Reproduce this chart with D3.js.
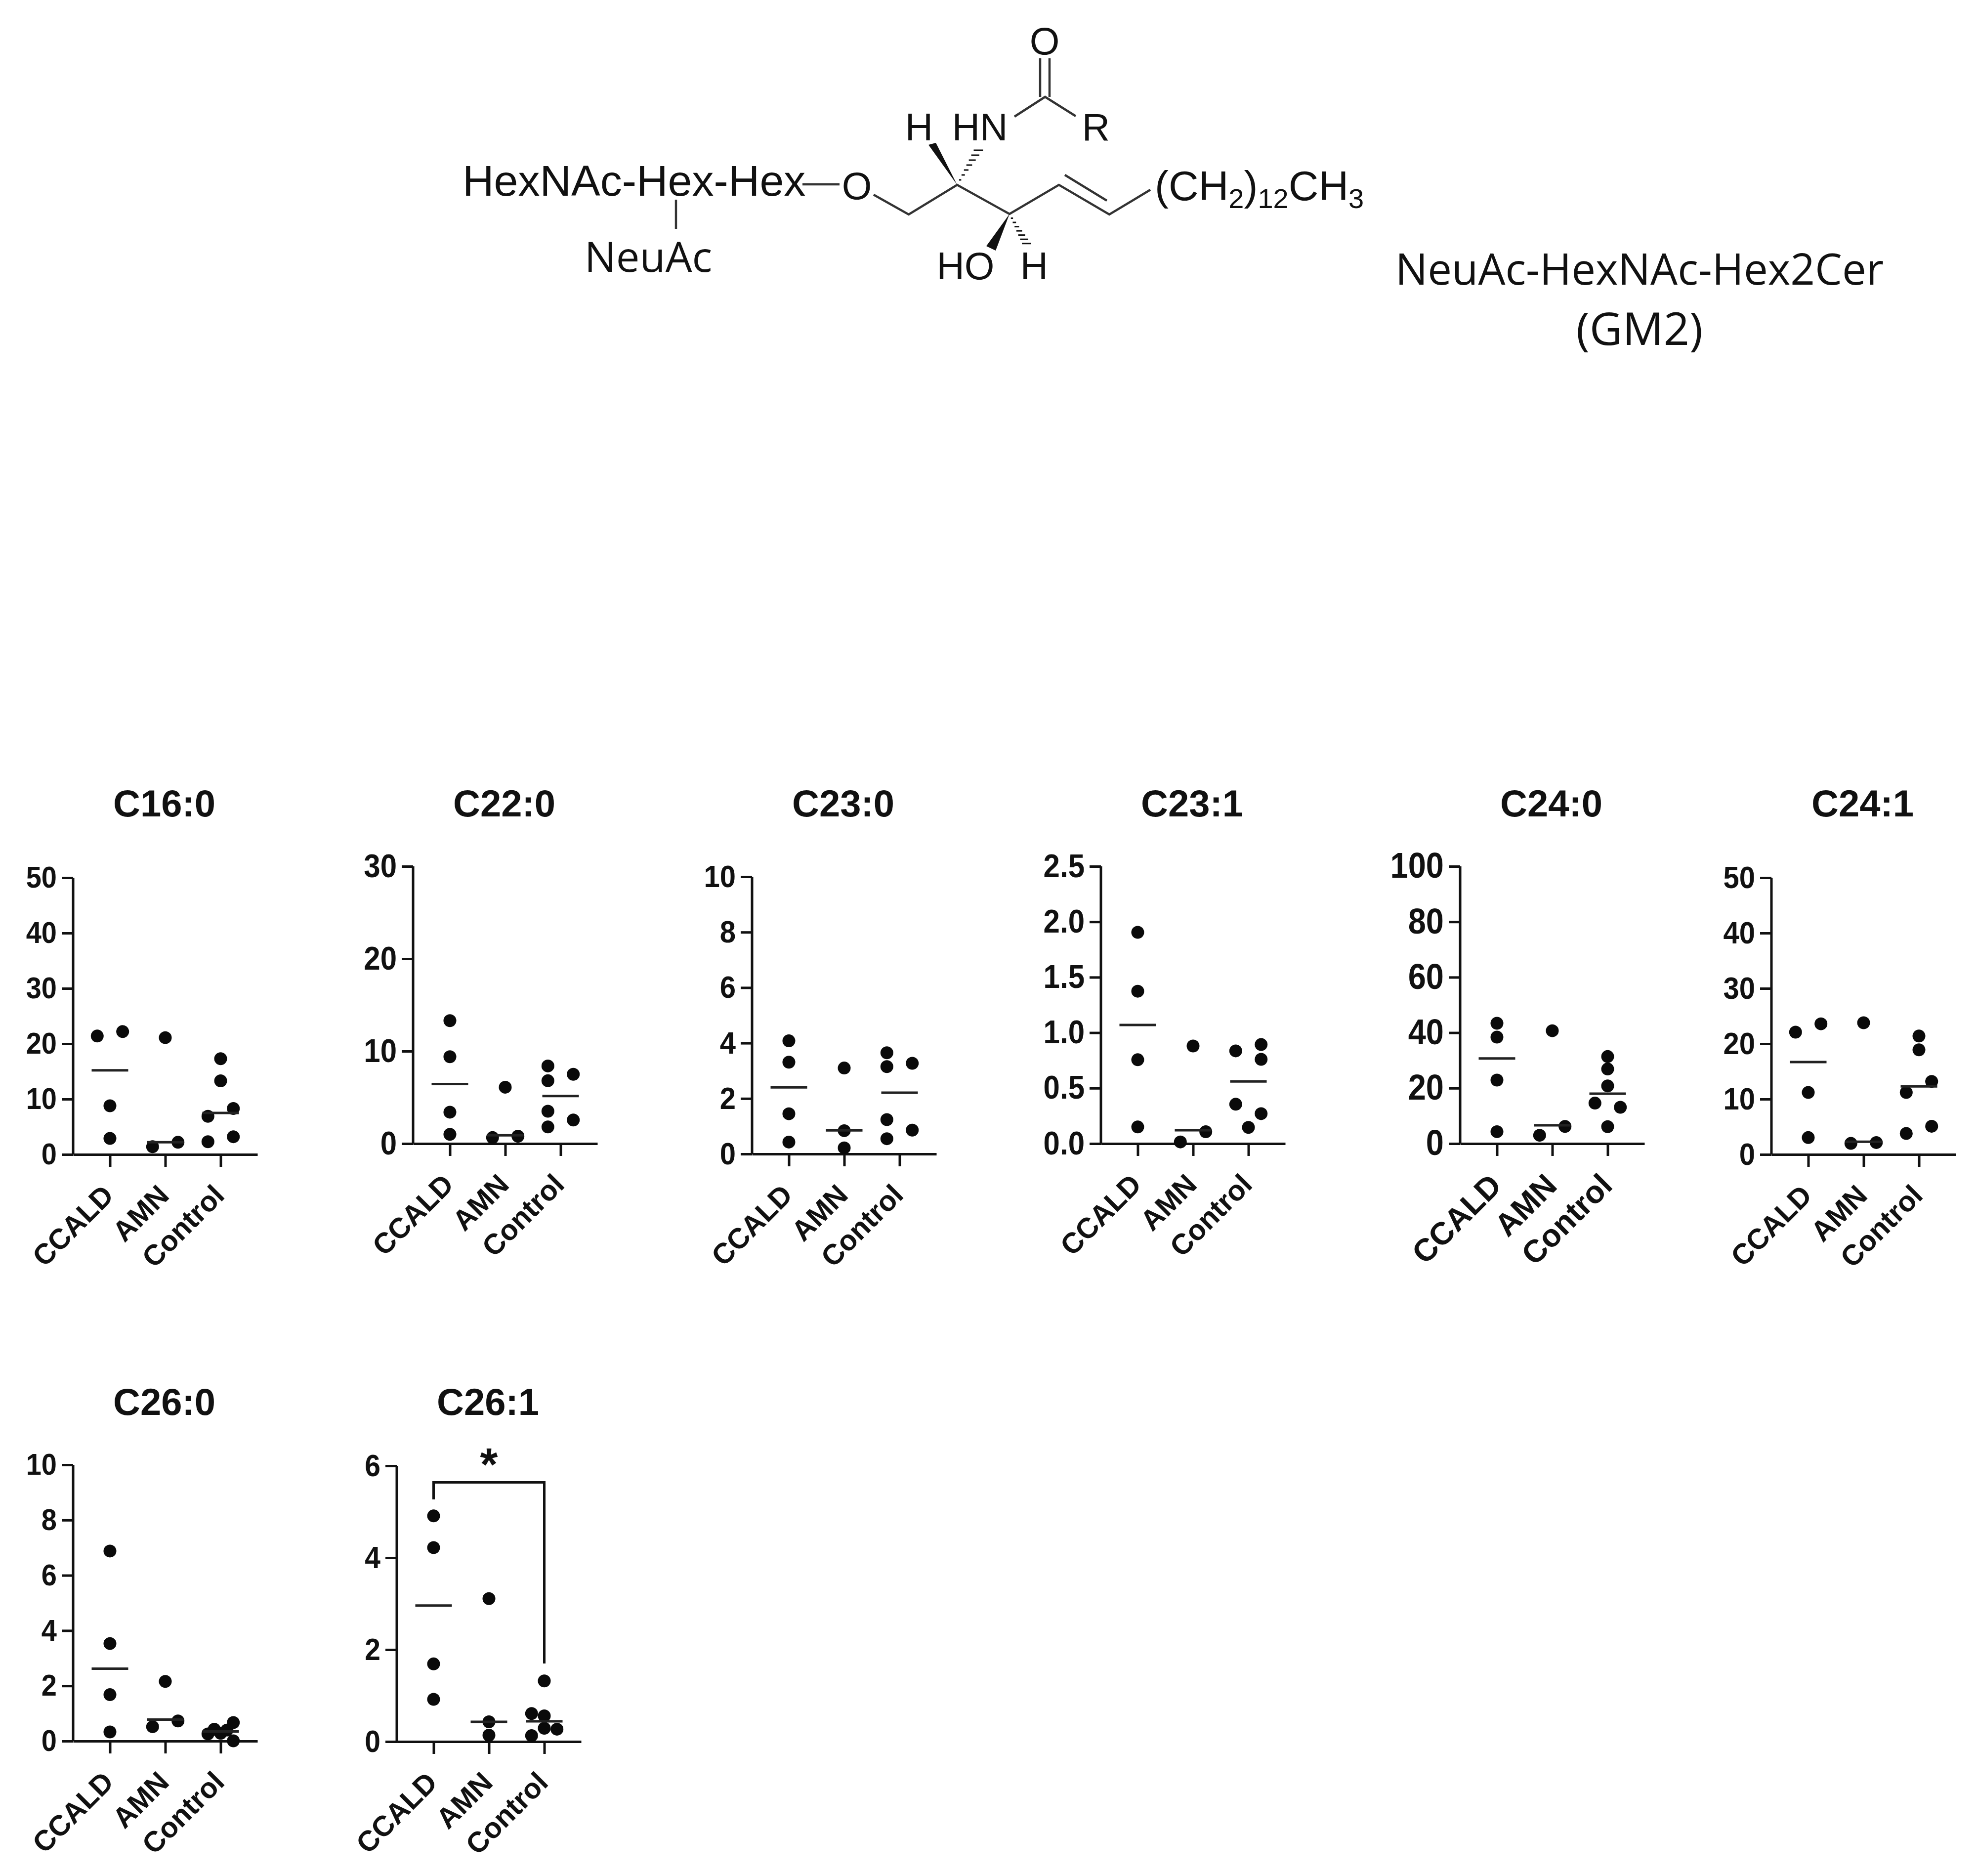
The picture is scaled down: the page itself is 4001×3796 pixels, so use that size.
<!DOCTYPE html>
<html>
<head>
<meta charset="utf-8">
<script src="https://cdn.jsdelivr.net/npm/d3@7"></script>
<style>
  html, body { margin: 0; padding: 0; background: #fff; }
  svg { display: block; }
  text { fill: #111; }
</style>
</head>
<body>
<div id="chart"></div>
<script>
var groups = ["CCALD", "AMN", "Control"];

// values, one list per group
// the *Slot lists say which prism column a dot sits in (-1 left, 0 centre, 1 right)
var c160 = [[21.4, 22.2, 8.8, 2.9], [21.1, 1.4, 2.2], [17.3, 13.3, 8.3, 6.9, 3.2, 2.3]];
var c160Slot = [[-1, 1, 0, 0], [0, -1, 1], [0, 0, 1, -1, 1, -1]];
var c160Median = [15.2, 2.2, 7.5];

var c220 = [[13.3, 9.4, 3.4, 1.0], [6.1, 0.65, 0.8], [8.4, 6.8, 7.5, 3.5, 2.55, 1.8]];
var c220Slot = [[0, 0, 0, 0], [0, -1, 1], [-1, -1, 1, -1, 1, -1]];
var c220Median = [6.45, 0.9, 5.15];

var c230 = [[4.08, 3.31, 1.45, 0.43], [3.1, 0.84, 0.22], [3.65, 3.15, 3.27, 1.24, 0.86, 0.55]];
var c230Slot = [[0, 0, 0, 0], [0, 0, 0], [-1, -1, 1, -1, 1, -1]];
var c230Median = [2.4, 0.85, 2.21];

var c231 = [[1.905, 1.374, 0.756, 0.15], [0.88, 0.107, 0.015], [0.893, 0.836, 0.76, 0.355, 0.27, 0.146]];
var c231Slot = [[0, 0, 0, 0], [0, 1, -1], [1, -1, 1, -1, 1, 0]];
var c231Median = [1.07, 0.12, 0.56];

var c240 = [[43.4, 38.4, 22.9, 4.3], [40.7, 6.2, 3.0], [31.4, 26.9, 20.8, 14.6, 13.1, 6.1]];
var c240Slot = [[0, 0, 0, 0], [0, 1, -1], [0, 0, 0, -1, 1, 0]];
var c240Median = [30.7, 6.6, 18];

var c241 = [[22.1, 23.6, 11.2, 3.05], [23.8, 2.0, 2.15], [21.4, 18.9, 13.2, 11.2, 5.1, 3.8]];
var c241Slot = [[-1, 1, 0, 0], [0, -1, 1], [0, 0, 1, -1, 1, -1]];
var c241Median = [16.7, 2.3, 12.3];

var c260 = [[6.88, 3.53, 1.68, 0.33], [2.16, 0.73, 0.52], [0.26, 0.43, 0.28, 0.4, 0.67, 0.01]];
var c260Slot = [[0, 0, 0, 0], [0, 1, -1], [-1, -0.5, 0, 0.5, 1, 1]];
var c260Median = [2.62, 0.78, 0.35];

var c261 = [[4.91, 4.22, 1.69, 0.92], [3.11, 0.43, 0.14], [1.32, 0.61, 0.56, 0.29, 0.27, 0.13]];
var c261Slot = [[0, 0, 0, 0], [0, 0, 0], [0, -1, 0, 0, 1, -1]];
var c261Median = [2.96, 0.43, 0.44];

// title, values, slots, medians, y max, y ticks
var panels = [
  ["C16:0", c160, c160Slot, c160Median, 50, [0, 10, 20, 30, 40, 50]],
  ["C22:0", c220, c220Slot, c220Median, 30, [0, 10, 20, 30]],
  ["C23:0", c230, c230Slot, c230Median, 10, [0, 2, 4, 6, 8, 10]],
  ["C23:1", c231, c231Slot, c231Median, 2.5, [0, 0.5, 1, 1.5, 2, 2.5]],
  ["C24:0", c240, c240Slot, c240Median, 100, [0, 20, 40, 60, 80, 100]],
  ["C24:1", c241, c241Slot, c241Median, 50, [0, 10, 20, 30, 40, 50]],
  ["C26:0", c260, c260Slot, c260Median, 10, [0, 2, 4, 6, 8, 10]],
  ["C26:1", c261, c261Slot, c261Median, 6, [0, 2, 4, 6]]
];

// where each panel's axes sit: left, top, bottom, title baseline, tick font, label font
var layout = [
  [148, 1776, 2336, 1652, 56, 58],
  [836, 1753, 2314, 1652, 60, 58],
  [1522, 1774, 2335, 1652, 58, 58],
  [2228, 1753, 2314, 1652, 60, 58],
  [2955, 1753, 2314, 1652, 65, 64],
  [3585, 1776, 2336, 1652, 58, 58],
  [148, 2964, 3523, 2863, 56, 58],
  [803, 2966, 3524, 2863, 57, 58]
];

var plotWidth = 373, dodge = 25.7, medianHalf = 37, dotR = 13, strokeW = 5;
var axisFont = "'Liberation Sans', Arial, sans-serif";
var plainFont = "'Open Sans', sans-serif";

var svg = d3.select("#chart").append("svg")
  .attr("width", 4001)
  .attr("height", 3796)
  .attr("viewBox", "0 0 4001 3796");

svg.append("rect").attr("width", 4001).attr("height", 3796).attr("fill", "#fff");

function makePanel(p, l) {
  var g = svg.append("g").attr("transform", "translate(" + l[0] + ",0)");

  var x = d3.scalePoint().domain(groups).range([0, plotWidth]).padding(0.665);
  var y = d3.scaleLinear().domain([0, p[4]]).range([l[2], l[1]]);
  var xOff = d3.scaleLinear().domain([-1, 1]).range([-dodge, dodge]);

  var yAxis = g.append("g")
    .call(d3.axisLeft(y).tickValues(p[5]).tickSize(23).tickSizeOuter(0).tickPadding(10)
      .tickFormat(p[4] == 2.5 ? d3.format(".1f") : d3.format("d")));
  var xAxis = g.append("g")
    .attr("transform", "translate(0," + l[2] + ")")
    .call(d3.axisBottom(x).tickSize(25).tickSizeOuter(0).tickPadding(6));

  [yAxis, xAxis].forEach(function (a) {
    a.selectAll("path, line").attr("stroke", "#111").attr("stroke-width", strokeW);
    a.selectAll("text")
      .attr("font-family", axisFont)
      .attr("font-weight", "bold")
      .attr("font-size", l[4])
      .attr("fill", "#111");
  });
  yAxis.select("path").attr("d", "M0," + y.range()[0] + "V" + y.range()[1]);
  // the numbers are a bit taller than they are wide in the picture
  yAxis.selectAll("text").attr("transform", "scale(1,1.1)");

  xAxis.selectAll("text")
    .attr("font-size", l[5])
    .attr("text-anchor", "end")
    .attr("dy", "0.5em")
    .attr("transform", "translate(-32,44) rotate(-45)");

  p[1].forEach(function (vals, i) {
    var grp = groups[i];
    g.selectAll(null)
      .data(vals)
      .enter()
      .append("circle")
      .attr("cx", function (d, j) { return x(grp) + xOff(p[2][i][j]); })
      .attr("cy", function (d) { return y(d); })
      .attr("r", dotR)
      .attr("fill", "#0a0a0a");

    g.append("line")
      .attr("x1", x(grp) - medianHalf)
      .attr("x2", x(grp) + medianHalf)
      .attr("y1", y(p[3][i]))
      .attr("y2", y(p[3][i]))
      .attr("stroke", "#222")
      .attr("stroke-width", strokeW);
  });

  g.append("text")
    .attr("x", x("AMN") - 2)
    .attr("y", l[3])
    .attr("text-anchor", "middle")
    .attr("font-family", axisFont)
    .attr("font-weight", "bold")
    .attr("font-size", 76)
    .text(p[0]);

  return { g: g, x: x, y: y };
}

var made = panels.map(function (p, i) { return makePanel(p, layout[i]); });

// significance bracket on C26:1
var last = made[7];
var bracket = d3.line();
last.g.append("path")
  .attr("d", bracket([
    [last.x("CCALD"), last.y(5.27)],
    [last.x("CCALD"), last.y(5.64)],
    [last.x("Control"), last.y(5.64)],
    [last.x("Control"), last.y(1.7)]
  ]))
  .attr("fill", "none")
  .attr("stroke", "#111")
  .attr("stroke-width", strokeW);
last.g.append("text")
  .attr("x", last.x("AMN"))
  .attr("y", last.y(5.64) - 4)
  .attr("text-anchor", "middle")
  .attr("font-family", axisFont)
  .attr("font-weight", "bold")
  .attr("font-size", 92)
  .text("*");

// glycan structure up top
var mol = svg.append("g").attr("transform", "translate(-7,-1)");
var bonds = [
  [[1375, 405], [1375, 464]],
  [[1631, 374], [1706, 374]],
  [[1775, 395], [1846, 435], [1944, 375], [2050, 434], [2150, 375], [2252, 435], [2335, 385]],
  [[2162, 355], [2247, 407]],
  [[2060, 237], [2122, 197], [2184, 236]],
  [[2112, 119], [2112, 197]],
  [[2131, 119], [2131, 197]]
];
bonds.forEach(function (b) {
  mol.append("path")
    .attr("d", d3.line()(b))
    .attr("fill", "none")
    .attr("stroke", "#333")
    .attr("stroke-width", 4.5);
});
[
  [[1944, 375], [1886, 294], [1901, 290]],
  [[2050, 434], [2003, 499], [2022, 508]]
].forEach(function (w) {
  mol.append("polygon").attr("points", w.join(" ")).attr("fill", "#111");
});
// hashed wedges
[
  [[1944, 375], [1990, 300]],
  [[2050, 434], [2087, 498]]
].forEach(function (h) {
  d3.range(1, 8).forEach(function (k) {
    var t = k / 7.5, half = 1 + 9 * t;
    var cx = h[0][0] + (h[1][0] - h[0][0]) * t;
    var cy = h[0][1] + (h[1][1] - h[0][1]) * t;
    mol.append("line")
      .attr("x1", cx - half).attr("x2", cx + half)
      .attr("y1", cy).attr("y2", cy)
      .attr("stroke", "#111").attr("stroke-width", 3);
  });
});

function molText(s, x, y, size, anchor, family) {
  return mol.append("text")
    .attr("x", x).attr("y", y)
    .attr("text-anchor", anchor || "middle")
    .attr("font-family", family || axisFont)
    .attr("font-size", size)
    .text(s);
}
molText("HexNAc-Hex-Hex", 943, 397, 88, "start");
molText("NeuAc", 1319, 551, 85, "middle", plainFont);
molText("O", 1741, 404, 78);
molText("O", 2121, 111, 78);
molText("H", 1867, 285, 78);
molText("HN", 1990, 285, 78);
molText("R", 2225, 285, 78);
molText("HO", 1961, 566, 78);
molText("H", 2100, 566, 78);

var chain = mol.append("text")
  .attr("x", 2344).attr("y", 406)
  .attr("font-family", axisFont)
  .attr("font-size", 84);
[["(CH", 0], ["2", 16], [")", -16], ["12", 16], ["CH", -16], ["3", 16]].forEach(function (t) {
  chain.append("tspan")
    .attr("dy", t[1])
    .attr("font-size", t[1] > 0 ? 56 : 84)
    .text(t[0]);
});

svg.append("text")
  .attr("x", 3318).attr("y", 576)
  .attr("text-anchor", "middle")
  .attr("font-family", plainFont)
  .attr("font-size", 87)
  .text("NeuAc-HexNAc-Hex2Cer");
svg.append("text")
  .attr("x", 3318).attr("y", 698)
  .attr("text-anchor", "middle")
  .attr("font-family", plainFont)
  .attr("font-size", 92)
  .text("(GM2)");
</script>
</body>
</html>
